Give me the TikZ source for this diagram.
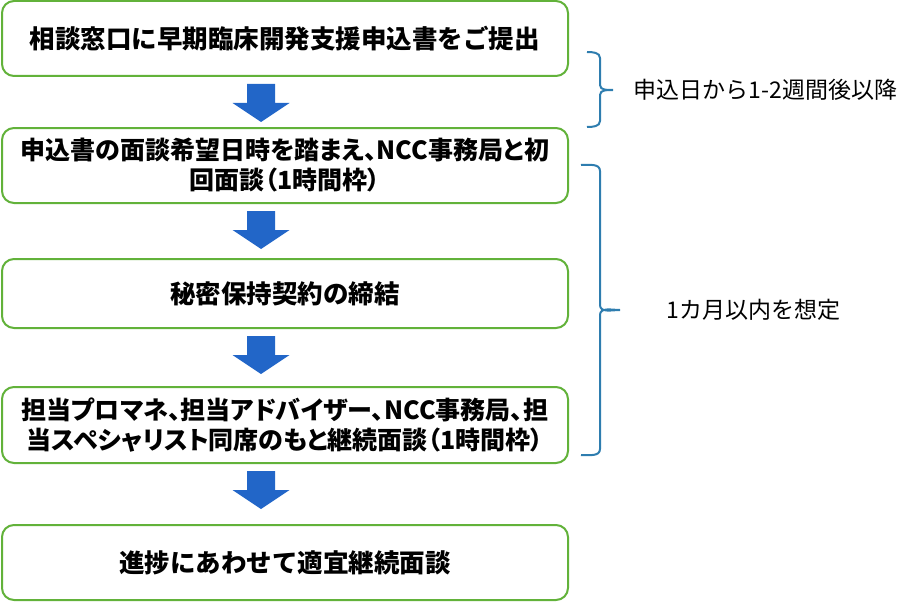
\documentclass[tikz,border=0pt]{standalone}
\usepackage{fontspec}
\setmainfont{Noto Sans CJK JP}
\newfontfamily\propjp{Noto Sans CJK JP}[RawFeature=+palt]
\usepackage{tikz}
\usetikzlibrary{calc}
\definecolor{BoxGreen}{HTML}{62B23A}
\definecolor{ArrowBlue}{HTML}{2266C8}
\definecolor{BraceBlue}{RGB}{46, 125, 175}

% block arrow hanging below a box
\newcommand{\flowarrow}[1]{%
  \begin{scope}[shift={($(#1.south)+(-24,7)$)}]
    \fill[ArrowBlue] (-14,0) -- (14,0) -- (14,19) -- (28.5,19) -- (0,38) -- (-28.5,19) -- (-14,19) -- cycle;
  \end{scope}}

\begin{document}
\begin{tikzpicture}[x=1pt, y=-1pt,
    stepbox/.style={draw=BoxGreen, line width=2pt, rounded corners=12pt, fill=white,
      minimum width=566pt, align=center, inner sep=0pt,
      font=\fontsize{25.5}{30}\selectfont\bfseries},
    widebox/.style={stepbox, font=\fontsize{25}{30}\selectfont\propjp\bfseries},
    notetext/.style={anchor=west, font=\fontsize{23}{27}\selectfont},
    bracepath/.style={draw=BraceBlue, line width=2pt}]
    \useasboundingbox (0,0) rectangle (922,602);

    % Flow of steps
    \node[stepbox, minimum height=75pt] (apply) at (285,38.5) {相談窓口に早期臨床開発支援申込書をご提出};
    \node[widebox, minimum height=75pt] (first) at (285,165.5) {申込書の面談希望日時を踏まえ、NCC事務局と初\\回面談（1時間枠）};
    \node[stepbox, minimum height=69pt] (nda) at (285,293.5) {秘密保持契約の締結};
    \node[widebox, minimum height=76pt] (meet) at (285,425) {担当プロマネ、担当アドバイザー、NCC事務局、担\\当スペシャリスト同席のもと継続面談（1時間枠）};
    \node[stepbox, minimum height=75pt] (follow) at (285,562.5) {進捗にあわせて適宜継続面談};

    % Arrows between steps
    \flowarrow{apply}
    \flowarrow{first}
    \flowarrow{nda}
    \flowarrow{meet}

    % Brace: after application
    \draw[bracepath] (587,52) to[out=0, in=90] (600,58) -- (600,85) to[out=-90, in=180] (613,90)
      to[out=180, in=90] (600,95) -- (600,121) to[out=-90, in=0] (587,127);
    \node[notetext] (wait) at (630,90) {申込日から1-2週間後以降};

    % Brace: first month
    \draw[bracepath] (581,165) to[out=0, in=90] (600,171) -- (600,305) to[out=-90, in=180] (620,310)
      to[out=180, in=90] (600,315) -- (600,449) to[out=-90, in=0] (581,455);
    \node[notetext] (month) at (663,310) {1カ月以内を想定};
\end{tikzpicture}
\end{document}
